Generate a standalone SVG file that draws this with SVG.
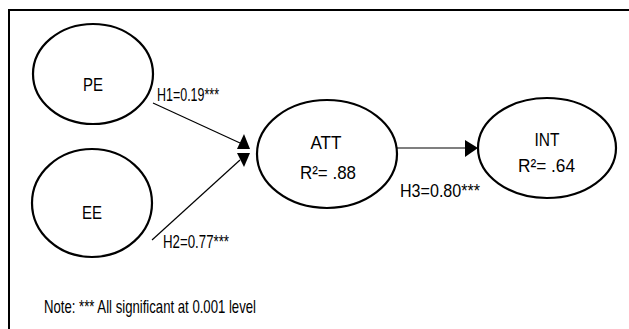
<svg xmlns="http://www.w3.org/2000/svg" width="629" height="329" viewBox="0 0 629 329">
<style>
.node{fill:#fff;stroke:#000;stroke-width:2.2}
.t{font-family:"Liberation Sans",Arial,sans-serif;font-size:19px;fill:#000}
.c{text-anchor:middle}
.edge{stroke:#000;stroke-width:1.2;fill:none}
.head{fill:#000}
</style>
<rect width="629" height="329" fill="#fff"/>
<path d="M9,329 V10 H629" fill="none" stroke="#000" stroke-width="2"/>
<g id="connectors">
<line class="edge" x1="153" y1="103" x2="240" y2="143"/>
<polygon class="head" points="244,134 250,149 237,149"/>
<line class="edge" x1="152" y1="240" x2="240" y2="160"/>
<polygon class="head" points="237,153 250,153 244,167"/>
<line class="edge" x1="397" y1="148" x2="466" y2="148"/>
<polygon class="head" points="465,140 478,148 465,157"/>
<text class="t" x="157" y="101" textLength="62" lengthAdjust="spacingAndGlyphs">H1=0.19***</text>
<text class="t" x="163" y="248" textLength="66" lengthAdjust="spacingAndGlyphs">H2=0.77***</text>
<text class="t" x="400" y="197" textLength="80" lengthAdjust="spacingAndGlyphs">H3=0.80***</text>
</g>
<g id="PE">
<ellipse class="node" cx="93" cy="74" rx="60" ry="50"/>
<text class="t c" x="93" y="91" textLength="20" lengthAdjust="spacingAndGlyphs">PE</text>
</g>
<g id="EE">
<ellipse class="node" cx="92" cy="203" rx="60" ry="54"/>
<text class="t c" x="92" y="219" textLength="20" lengthAdjust="spacingAndGlyphs">EE</text>
</g>
<g id="ATT">
<ellipse class="node" cx="327" cy="154" rx="70" ry="54"/>
<text class="t c" x="326" y="149" textLength="31" lengthAdjust="spacingAndGlyphs">ATT</text>
<text class="t" x="300" y="179" textLength="56" lengthAdjust="spacingAndGlyphs">R²= .88</text>
</g>
<g id="INT">
<ellipse class="node" cx="547" cy="148" rx="69" ry="50"/>
<text class="t c" x="547" y="146" textLength="25" lengthAdjust="spacingAndGlyphs">INT</text>
<text class="t" x="518" y="172" textLength="57" lengthAdjust="spacingAndGlyphs">R²= .64</text>
</g>
<text class="t" x="44" y="313" textLength="212" lengthAdjust="spacingAndGlyphs">Note: *** All significant at 0.001 level</text>
</svg>
